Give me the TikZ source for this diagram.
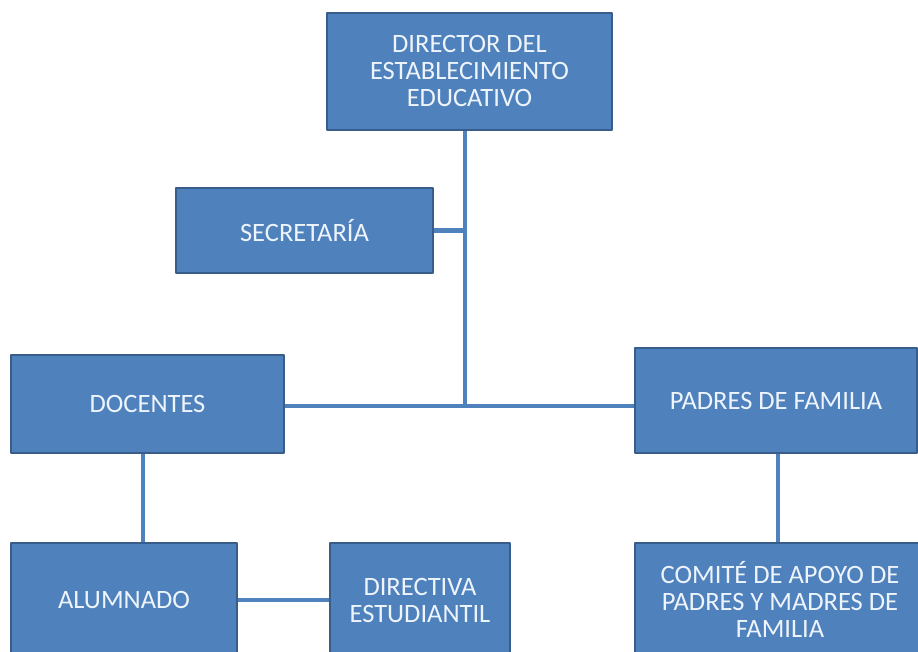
\documentclass[tikz,border=0pt]{standalone}
\usepackage{fontspec}
\setmainfont{Carlito}
\definecolor{azul}{HTML}{4F81BD}
\definecolor{borde}{HTML}{385D8A}
\definecolor{texto}{HTML}{EEF4FB}
\tikzset{
	caja/.style={draw=borde, line width=2.5pt, fill=azul, text=texto, align=center, inner sep=0pt, font=\fontsize{26.5}{27}\selectfont},
	enlace/.style={azul, line width=4.5pt}
}
\begin{document}
\begin{tikzpicture}[x=1pt, y=-1pt, line join=round]
		\useasboundingbox (0,0) rectangle (918,652);
		\node[caja, minimum width=285pt, minimum height=117pt] (dir) at (469.5,71.5) {DIRECTOR DEL\\ESTABLECIMIENTO\\EDUCATIVO};
		\node[caja, minimum width=257pt, minimum height=85pt] (sec) at (304.5,230.5) {SECRETARÍA};
		\node[caja, minimum width=273pt, minimum height=98pt] (doc) at (147.5,404) {DOCENTES};
		\node[caja, minimum width=282pt, minimum height=105pt] (pad) at (776,400.5) {PADRES DE FAMILIA};
		\node[caja, minimum width=226pt, minimum height=114pt] (alu) at (124,600) {ALUMNADO};
		\node[caja, minimum width=180pt, minimum height=114pt] (dirv) at (420,600) {DIRECTIVA\\ESTUDIANTIL};
		\node[caja, minimum width=290pt, minimum height=112pt] (com) at (780,599) {COMITÉ DE APOYO DE\\PADRES Y MADRES DE\\FAMILIA};
		\coordinate (J) at (465,406);
		\coordinate (D) at (143,0);
		\coordinate (P) at (778,0);
		\draw[enlace] (dir.south -| J)--(J);
		\draw[enlace] (sec.east)--(sec.east -| J);
		\draw[enlace] (doc.east |- J)--(pad.west |- J);
		\draw[enlace] (doc.south -| D)--(alu.north -| D);
		\draw[enlace] (pad.south -| P)--(com.north -| P);
		\draw[enlace] (alu.east)--(dirv.west);
\end{tikzpicture}
\end{document}
